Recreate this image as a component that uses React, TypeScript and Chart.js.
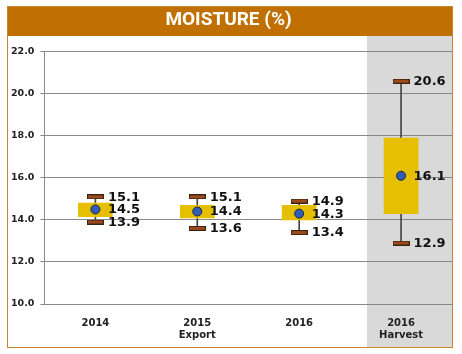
import React, { useEffect, useRef } from "react";
import { Chart, registerables } from "chart.js";

Chart.register(...registerables);

const categories: (string | string[])[] = ["2014", ["2015", "Export"], "2016", ["2016", "Harvest"]];
const maxValues = [15.1, 15.1, 14.9, 20.6];
const meanValues = [14.5, 14.4, 14.3, 16.1];
const minValues = [13.9, 13.6, 13.4, 12.9];
const boxLow = [14.15, 14.1, 14.0, 14.3];
const boxHigh = [14.8, 14.7, 14.7, 17.9];
const titleText = "MOISTURE (%)";
const yMin = 10;
const yMax = 22;
const yStep = 2;
const highlightIndex = 3;

function makeCap(): HTMLCanvasElement {
  const c = document.createElement("canvas");
  c.width = 17;
  c.height = 5;
  const ctx = c.getContext("2d")!;
  ctx.fillStyle = "#3a2410";
  ctx.fillRect(0, 0, 17, 5);
  ctx.fillStyle = "#9a4a1c";
  ctx.fillRect(1, 1, 15, 3);
  return c;
}

const framePlugin = {
  id: "framePlugin",
  beforeDraw(chart: any) {
    const { ctx, width, height } = chart;
    const xs = chart.scales.x;
    ctx.save();
    ctx.fillStyle = "#ffffff";
    ctx.fillRect(0, 0, width, height);
    const cx = xs.getPixelForValue(highlightIndex);
    const bw = (xs.right - xs.left) / categories.length;
    const gl = cx - bw * 0.335;
    ctx.fillStyle = "#d9d9d9";
    ctx.fillRect(gl, 36, 452 - gl, 347 - 36);
    ctx.fillStyle = "#bf7000";
    ctx.fillRect(7, 6, 446, 30);
    ctx.strokeStyle = "#c8862a";
    ctx.lineWidth = 1;
    ctx.strokeRect(7.5, 6.5, 445, 341);
    ctx.restore();
  },
};

const labelPlugin = {
  id: "labelPlugin",
  afterDatasetsDraw(chart: any) {
    const { ctx } = chart;
    const xs = chart.scales.x;
    const ys = chart.scales.y;
    ctx.save();
    ctx.fillStyle = "#111111";
    ctx.font = "bold 13px 'DejaVu Sans'";
    ctx.textAlign = "left";
    ctx.textBaseline = "middle";
    for (let i = 0; i < categories.length; i++) {
      const x = xs.getPixelForValue(i) + 12.5;
      [maxValues[i], meanValues[i], minValues[i]].forEach((v) => {
        ctx.fillText(v.toFixed(1), x, ys.getPixelForValue(v) + 0.5);
      });
    }
    ctx.restore();
  },
};

export default function App() {
  const ref = useRef<HTMLCanvasElement | null>(null);
  useEffect(() => {
    if (!ref.current) return;
    const cap = makeCap();
    const chart = new Chart(ref.current, {
      type: "bar",
      data: {
        labels: categories as any,
        datasets: [
          {
            type: "line",
            label: "Mean",
            data: meanValues,
            showLine: false,
            pointStyle: "circle",
            pointRadius: 4.5,
            pointBackgroundColor: "#2f5fb8",
            pointBorderColor: "#1c2440",
            pointBorderWidth: 1,
            order: 0,
          } as any,
          {
            type: "line",
            label: "Max",
            data: maxValues,
            showLine: false,
            pointStyle: cap,
            order: 1,
          } as any,
          {
            type: "line",
            label: "Min",
            data: minValues,
            showLine: false,
            pointStyle: cap,
            order: 1,
          } as any,
          {
            type: "bar",
            label: "Box",
            data: boxLow.map((v, i) => [v, boxHigh[i]]),
            backgroundColor: "#e6bf00",
            borderWidth: 0,
            barThickness: 34,
            grouped: false,
            order: 2,
          } as any,
          {
            type: "bar",
            label: "Range",
            data: minValues.map((v, i) => [v, maxValues[i]]),
            backgroundColor: "#444444",
            borderWidth: 0,
            barThickness: 1,
            grouped: false,
            order: 3,
          } as any,
        ],
      },
      options: {
        animation: false,
        responsive: false,
        maintainAspectRatio: false,
        layout: { padding: { left: 5, right: 10, top: 6, bottom: 0 } },
        plugins: {
          legend: { display: false },
          tooltip: { enabled: false },
          title: {
            display: true,
            text: titleText,
            color: "#ffffff",
            font: { family: "Roboto", weight: "bold", size: 19 },
            padding: { top: 3, bottom: 20 },
          },
        },
        scales: {
          x: {
            grid: { display: false, drawTicks: false },
            border: { display: true, color: "#888888" },
            ticks: {
              color: "#222222",
              padding: 13,
              font: { family: "DejaVu Sans", weight: "bold", size: 10, lineHeight: 1.2 },
              maxRotation: 0,
              autoSkip: false,
            },
          },
          y: {
            min: yMin,
            max: yMax,
            grid: { color: "#888888", tickLength: 4, drawTicks: true },
            border: { display: true, color: "#888888" },
            ticks: {
              stepSize: yStep,
              color: "#222222",
              padding: 6,
              font: { family: "DejaVu Sans", weight: "bold", size: 9.5 },
              callback: (v: any) => Number(v).toFixed(1),
            },
          },
        },
      },
      plugins: [framePlugin, labelPlugin],
    });
    return () => chart.destroy();
  }, []);
  return (
    <div style={{ position: "fixed", left: 0, top: 0, width: 462, height: 354 }}>
      <canvas ref={ref} width={462} height={354} style={{ width: 462, height: 354 }} />
    </div>
  );
}
